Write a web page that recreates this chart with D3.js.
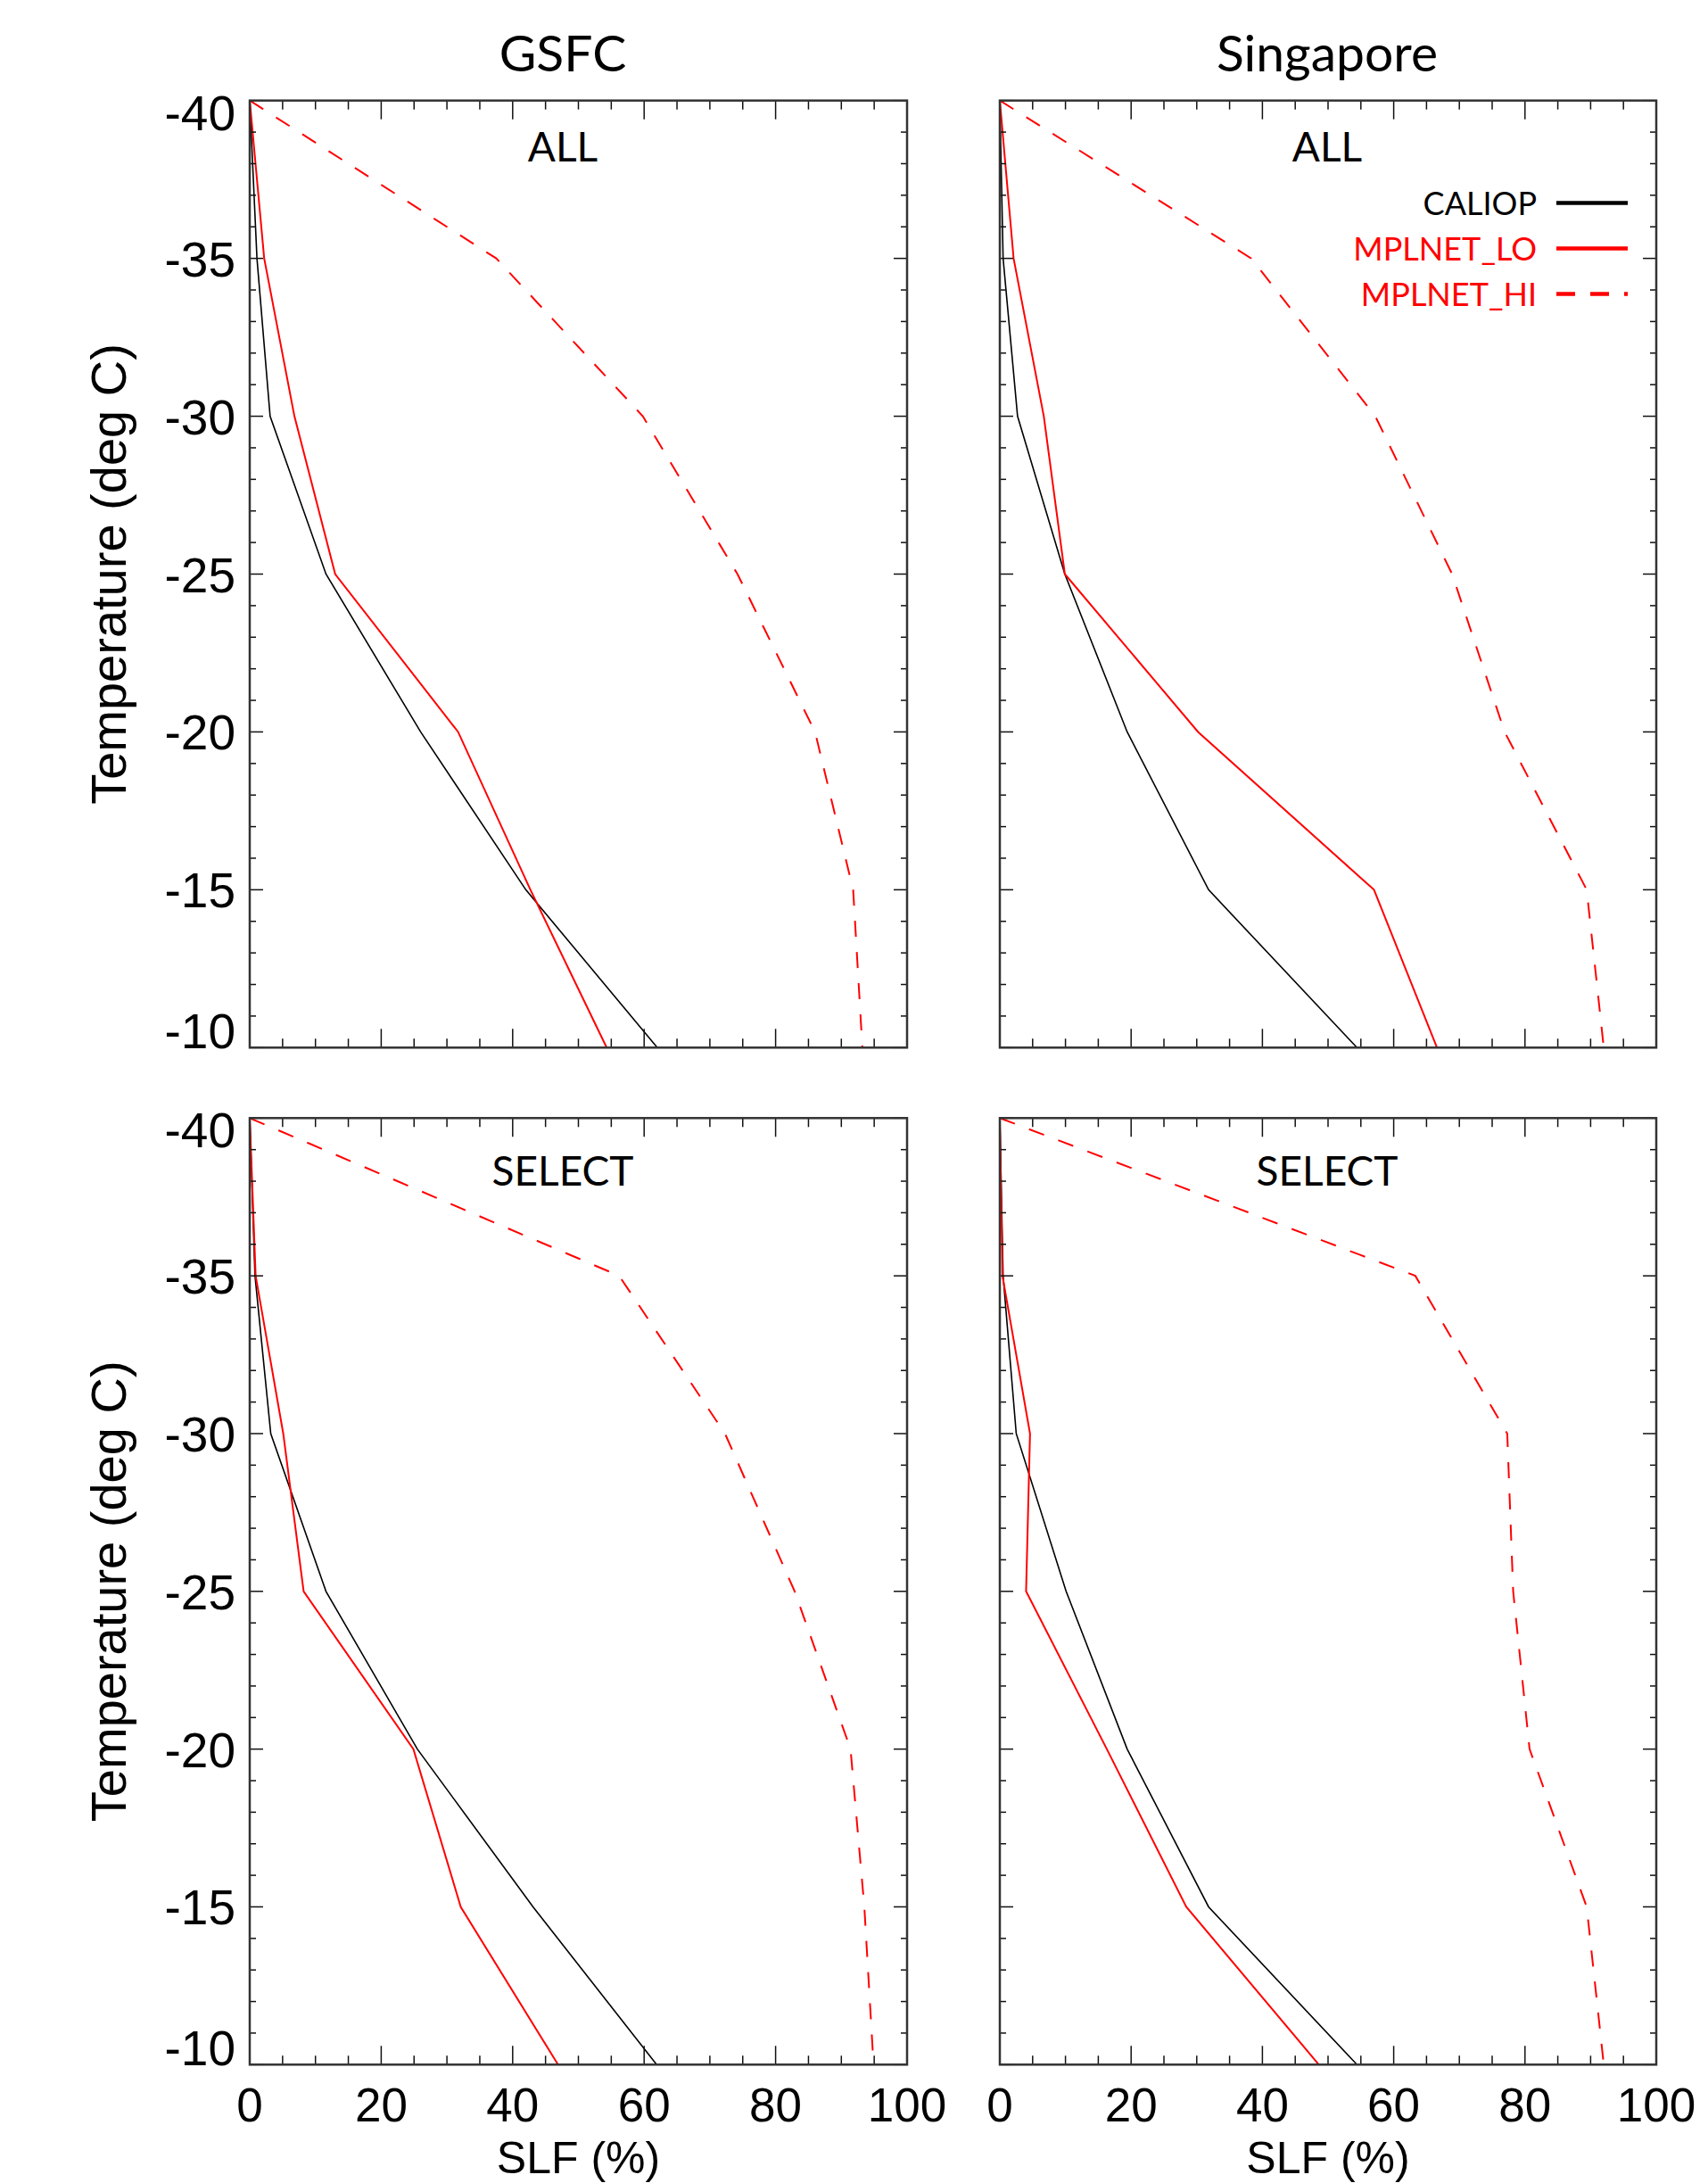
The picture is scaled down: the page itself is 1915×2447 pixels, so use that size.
<!DOCTYPE html>
<html><head><meta charset="utf-8">
<script src="https://cdn.jsdelivr.net/npm/d3@7"></script>
<style>html,body{margin:0;padding:0;background:#fff;} svg{display:block}</style>
</head><body>
<svg id="chart" width="1915" height="2447"></svg>
<script>
// ---------------- data ----------------
const temperatures = [-40, -35, -30, -25, -20, -15, -10];
const stations = ["GSFC", "Singapore"];
const subsets = ["ALL", "SELECT"];
const seriesNames = ["CALIOP", "MPLNET_LO", "MPLNET_HI"];
const xTickValues = [0, 20, 40, 60, 80, 100];
const xTickLabels = ["0", "20", "40", "60", "80", "100"];
const yTickValues = [-40, -35, -30, -25, -20, -15, -10];
const yTickLabels = ["-40", "-35", "-30", "-25", "-20", "-15", "-10"];
const xTitle = "SLF (%)";
const yTitle = "Temperature (deg C)";

// GSFC, ALL
const gsfcAllCaliop = [0, 1.1, 3.1, 11.6, 26.0, 42.0, 62.0];
const gsfcAllLo     = [0, 2.2, 6.8, 13.0, 31.7, 42.7, 54.3];
const gsfcAllHi     = [0, 37.5, 59.8, 74.2, 86.0, 91.8, 93.2];
// Singapore, ALL
const sinAllCaliop  = [0, 0.5, 2.7, 9.9, 19.4, 31.8, 54.4];
const sinAllLo      = [0, 2.1, 6.7, 9.9, 30.2, 57.0, 66.6];
const sinAllHi      = [0, 38.3, 57.2, 68.9, 76.9, 89.4, 92.0];
// GSFC, SELECT
const gsfcSelCaliop = [0, 0.8, 3.2, 11.6, 25.5, 43.1, 61.9];
const gsfcSelLo     = [0, 0.9, 5.1, 8.2, 24.9, 32.1, 46.9];
const gsfcSelHi     = [0, 56.2, 72.3, 82.9, 91.4, 93.5, 94.9];
// Singapore, SELECT
const sinSelCaliop  = [0, 0.5, 2.5, 10.1, 19.4, 31.8, 54.4];
const sinSelLo      = [0, 0.4, 4.6, 4.0, 16.3, 28.4, 48.6];
const sinSelHi      = [0, 63.3, 77.3, 78.2, 80.7, 89.4, 92.0];

// ---------------- layout / style ----------------
const colX = [[280, 1017], [1121, 1857]];
const rowY = [[112.7, 1174.3], [1253.3, 2314.3]];
const titleX = [631, 1488];
const subsetBaseline = [181, 1329];
const RED = "#ff0000";
const seriesStyle = [
  {color: "#000000", width: 1.6, dash: null},
  {color: RED, width: 2, dash: null},
  {color: RED, width: 2, dash: "18,17"}
];
const labelFont = "'Liberation Sans', Arial, Helvetica, sans-serif";
const textFont = "Lato, 'Open Sans', sans-serif";

const panels = [
  {row: 0, col: 0, series: [gsfcAllCaliop, gsfcAllLo, gsfcAllHi]},
  {row: 0, col: 1, series: [sinAllCaliop, sinAllLo, sinAllHi]},
  {row: 1, col: 0, series: [gsfcSelCaliop, gsfcSelLo, gsfcSelHi]},
  {row: 1, col: 1, series: [sinSelCaliop, sinSelLo, sinSelHi]}
];

const svg = d3.select("#chart");
svg.append("rect").attr("width", 1915).attr("height", 2447).attr("fill", "#fff");

panels.forEach(p => {
  const x = d3.scaleLinear().domain([0, 100]).range(colX[p.col]);
  const y = d3.scaleLinear().domain([-40, -10]).range(rowY[p.row]);
  const g = svg.append("g");
  const [x0, x1] = x.range();
  const [y0, y1] = y.range();

  // data lines
  const line = d3.line().x(d => x(d[0])).y(d => y(d[1]));
  p.series.forEach((vals, i) => {
    const st = seriesStyle[i];
    g.append("path")
      .datum(vals.map((v, k) => [v, temperatures[k]]))
      .attr("d", line)
      .attr("fill", "none")
      .attr("stroke", st.color)
      .attr("stroke-width", st.width)
      .attr("stroke-linejoin", "miter")
      .attr("stroke-dasharray", st.dash);
  });

  // ticks
  const xMinor = d3.range(0, 100.1, 5);
  xMinor.forEach(v => {
    const len = (v % 20 === 0) ? 21 : 10;
    g.append("line").attr("x1", x(v)).attr("x2", x(v)).attr("y1", y0).attr("y2", y0 + len)
      .attr("stroke", "#111").attr("stroke-width", 1.5);
    g.append("line").attr("x1", x(v)).attr("x2", x(v)).attr("y1", y1).attr("y2", y1 - len)
      .attr("stroke", "#111").attr("stroke-width", 1.5);
  });
  const yMinor = d3.range(-40, -9.9, 1);
  yMinor.forEach(v => {
    const len = (v % 5 === 0) ? 15 : 7;
    g.append("line").attr("x1", x0).attr("x2", x0 + len).attr("y1", y(v)).attr("y2", y(v))
      .attr("stroke", "#111").attr("stroke-width", 1.5);
    g.append("line").attr("x1", x1).attr("x2", x1 - len).attr("y1", y(v)).attr("y2", y(v))
      .attr("stroke", "#111").attr("stroke-width", 1.5);
  });

  // frame
  g.append("rect").attr("x", x0).attr("y", y0).attr("width", x1 - x0).attr("height", y1 - y0)
    .attr("fill", "none").attr("stroke", "#333").attr("stroke-width", 2.5);

  // x tick labels (bottom row)
  if (p.row === 1) {
    xTickValues.forEach((v, i) => {
      svg.append("text").attr("x", x(v)).attr("y", y1 + 64)
        .attr("text-anchor", "middle").attr("font-family", labelFont).attr("font-size", 53)
        .attr("fill", "#000").text(xTickLabels[i]);
    });
    svg.append("text").attr("x", (x0 + x1) / 2).attr("y", 2436)
      .attr("text-anchor", "middle").attr("font-family", labelFont).attr("font-size", 50)
      .attr("fill", "#000").text(xTitle);
  }
  // y tick labels (left column)
  if (p.col === 0) {
    yTickValues.forEach((v, i) => {
      const cy = Math.max(y0 + 13, Math.min(y1 - 19, y(v)));
      svg.append("text").attr("x", x0 - 16).attr("y", cy + 20)
        .attr("text-anchor", "end").attr("font-family", labelFont).attr("font-size", 55)
        .attr("fill", "#000").text(yTickLabels[i]);
    });
    svg.append("text")
      .attr("transform", `translate(141,${(y0 + y1) / 2}) rotate(-90)`)
      .attr("text-anchor", "middle").attr("font-family", labelFont).attr("font-size", 56)
      .attr("fill", "#000").text(yTitle);
  }
  // station title (top row)
  if (p.row === 0) {
    svg.append("text").attr("x", titleX[p.col]).attr("y", 80)
      .attr("text-anchor", "middle").attr("font-family", textFont).attr("font-size", 57)
      .attr("fill", "#000").text(stations[p.col]);
  }
  // subset label
  svg.append("text").attr("x", titleX[p.col]).attr("y", subsetBaseline[p.row])
    .attr("text-anchor", "middle").attr("font-family", textFont).attr("font-size", 46)
    .attr("fill", "#000").text(subsets[p.row]);

  // legend (top-right panel)
  if (p.row === 0 && p.col === 1) {
    const legColors = ["#000", RED, RED];
    const legBase = [241, 292, 343];
    seriesNames.forEach((nm, i) => {
      svg.append("text").attr("x", 1723).attr("y", legBase[i])
        .attr("text-anchor", "end").attr("font-family", textFont).attr("font-size", 36)
        .attr("fill", legColors[i]).text(nm);
      svg.append("line").attr("x1", 1745).attr("x2", 1825)
        .attr("y1", legBase[i] - 13.5).attr("y2", legBase[i] - 13.5)
        .attr("stroke", legColors[i]).attr("stroke-width", 4.5)
        .attr("stroke-dasharray", i === 2 ? "21,17" : null);
    });
  }
});
</script>
</body></html>
